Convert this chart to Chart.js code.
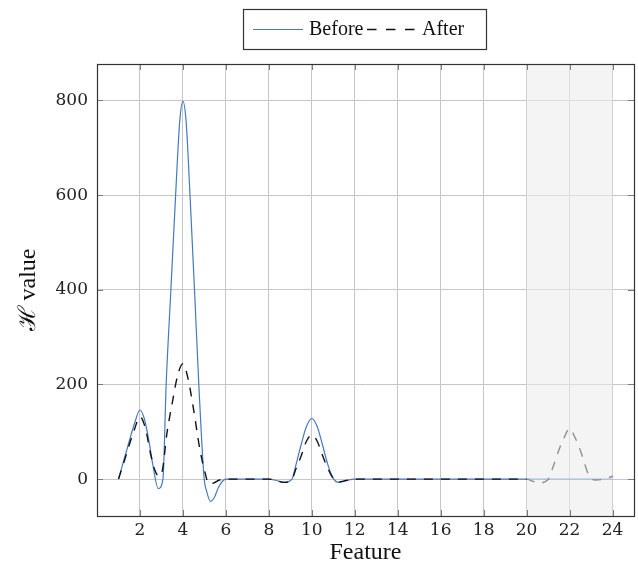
<!DOCTYPE html>
<html>
<head>
<meta charset="utf-8">
<script src="https://cdn.jsdelivr.net/npm/chart.js@4.4.1/dist/chart.umd.min.js"></script>
<style>
  html, body { margin: 0; padding: 0; background: #fff; }
  #wrap { width: 638px; height: 571px; }
</style>
</head>
<body>
<div id="wrap"><canvas id="myChart" width="638" height="571"></canvas></div>
<script>
// H value per feature, sampled along each curve
const beforeX = [1, 1.25, 1.5, 1.75, 2, 2.2, 2.4, 2.6, 2.85, 3.07, 3.22, 3.44, 3.66, 3.85, 4, 4.15, 4.33, 4.54, 4.74, 4.99, 5.1, 5.28, 5.45, 5.65, 5.85, 6,
                 7, 8, 8.35, 8.7, 9.08, 9.25, 9.5, 9.75, 10, 10.25, 10.5, 10.75, 11.02, 11.26, 11.6, 12,
                 14, 16, 18, 20, 22, 24];
const beforeY = [0, 40, 80, 118, 146, 128, 85, 30, -20, 0, 200, 400, 600, 755, 798, 755, 600, 400, 200, 0, -25, -47, -40, -18, -4, 0,
                 0, 0, -3, -7, 0, 28, 72, 111, 128, 111, 72, 30, 0, -7, -3, 0,
                 0, 0, 0, 0, 0, 0];

const afterX = [1, 1.25, 1.5, 1.75, 2, 2.25, 2.5, 2.7, 2.88, 3.05, 3.25, 3.5, 3.75, 4, 4.25, 4.5, 4.8, 5.04, 5.2, 5.45, 5.7, 6,
                7, 8, 8.35, 8.7, 9.08, 9.25, 9.5, 9.75, 10, 10.25, 10.5, 10.75, 11.02, 11.26, 11.6, 12,
                14, 16, 18, 20, 20.3, 20.6, 21, 21.25, 21.5, 21.75, 22, 22.25, 22.5, 22.9, 23.2, 23.6, 24];
const afterY = [0, 35, 72, 106, 132, 108, 52, 18, 6, 20, 95, 160, 218, 244, 210, 146, 60, 12, -10, -8, -2, 0,
                0, 0, -3, -7, 0, 20, 48, 80, 93, 80, 50, 22, 0, -6, -3, 0,
                0, 0, 0, 0, -5, -8, -1, 28, 61, 88, 107, 88, 61, 8, -2, 0, 6];

const xTicks = [2, 4, 6, 8, 10, 12, 14, 16, 18, 20, 22, 24];
const yTicks = [0, 200, 400, 600, 800];
const shadedRange = [20, 24];

const serif = "'Liberation Serif', 'DejaVu Serif', serif";
const tickFont = "'DejaVu Serif', serif";

const toPoints = (xs, ys) => xs.map((x, i) => ({ x: x, y: ys[i] }));

// grey band, inner tick marks, full frame and the boxed legend
const framePlugin = {
    id: 'frame',
    afterDatasetsDraw(chart) {
        const { ctx, chartArea: a, scales: { x, y } } = chart;
        ctx.save();
        const x0 = x.getPixelForValue(shadedRange[0]);
        const x1 = x.getPixelForValue(shadedRange[1]);
        ctx.fillStyle = 'rgba(236, 236, 236, 0.58)';
        ctx.fillRect(x0, a.top, x1 - x0, a.bottom - a.top);

        ctx.strokeStyle = '#7a7a7a';
        ctx.lineWidth = 1;
        ctx.beginPath();
        xTicks.forEach(v => {
            const px = Math.round(x.getPixelForValue(v)) + 0.5;
            ctx.moveTo(px, a.bottom); ctx.lineTo(px, a.bottom - 6);
            ctx.moveTo(px, a.top); ctx.lineTo(px, a.top + 6);
        });
        yTicks.forEach(v => {
            const py = Math.round(y.getPixelForValue(v)) + 0.5;
            ctx.moveTo(a.left, py); ctx.lineTo(a.left + 6, py);
            ctx.moveTo(a.right, py); ctx.lineTo(a.right - 6, py);
        });
        ctx.stroke();

        ctx.strokeStyle = '#333';
        ctx.lineWidth = 1.2;
        ctx.strokeRect(Math.round(a.left) + 0.5, Math.round(a.top) + 0.5,
                       Math.round(a.right - a.left), Math.round(a.bottom - a.top));
        ctx.restore();
    },
    afterDraw(chart) {
        const ctx = chart.ctx;
        const ds = chart.data.datasets;
        ctx.save();
        ctx.strokeStyle = '#333';
        ctx.lineWidth = 1.2;
        ctx.strokeRect(243.5, 9.5, 243, 40);

        ctx.lineWidth = ds[0].borderWidth;
        ctx.strokeStyle = ds[0].borderColor;
        ctx.beginPath(); ctx.moveTo(253, 29.5); ctx.lineTo(303, 29.5); ctx.stroke();

        ctx.lineWidth = ds[1].borderWidth;
        ctx.strokeStyle = ds[1].borderColor;
        ctx.setLineDash([9.5, 9.5]);
        ctx.beginPath(); ctx.moveTo(367, 29.5); ctx.lineTo(416, 29.5); ctx.stroke();
        ctx.setLineDash([]);

        ctx.fillStyle = '#111';
        ctx.font = '20px ' + serif;
        ctx.textBaseline = 'middle';
        ctx.fillText(ds[0].label, 309, 30);
        ctx.fillText(ds[1].label, 422, 30);
        ctx.restore();
    }
};

const config = {
    type: 'line',
    data: {
        datasets: [{
            label: 'Before',
            data: toPoints(beforeX, beforeY),
            borderColor: '#4579c3',
            borderWidth: 1.2,
            pointRadius: 0,
            cubicInterpolationMode: 'monotone',
            order: 2
        }, {
            label: 'After',
            data: toPoints(afterX, afterY),
            borderColor: '#111',
            borderWidth: 1.4,
            borderDash: [9, 8],
            pointRadius: 0,
            cubicInterpolationMode: 'monotone',
            order: 1
        }]
    },
    options: {
        responsive: false,
        animation: false,
        layout: { padding: { top: 64, right: 4, left: 0, bottom: 0 } },
        plugins: {
            legend: { display: false },
            tooltip: { enabled: false }
        },
        scales: {
            x: {
                type: 'linear',
                min: 0,
                max: 25,
                afterBuildTicks: s => { s.ticks = xTicks.map(v => ({ value: v })); },
                afterFit: s => { s.height = 55; },
                grid: { color: '#c6c6c6', lineWidth: 1, drawTicks: false },
                border: { display: false },
                ticks: { padding: 4, color: '#222', font: { family: tickFont, size: 17 } },
                title: {
                    display: true,
                    text: 'Feature',
                    color: '#111',
                    padding: { top: 0, bottom: 4 },
                    font: { family: serif, size: 24 }
                }
            },
            y: {
                min: -78,
                max: 877,
                afterBuildTicks: s => { s.ticks = yTicks.map(v => ({ value: v })); },
                afterFit: s => { s.width = 97; },
                grid: { color: '#c6c6c6', lineWidth: 1, drawTicks: false },
                border: { display: false },
                ticks: { padding: 9, color: '#222', font: { family: tickFont, size: 17 } },
                title: {
                    display: true,
                    text: 'ℋ value',
                    color: '#111',
                    padding: { top: 14, bottom: 0 },
                    font: { family: serif, size: 24 }
                }
            }
        }
    },
    plugins: [framePlugin]
};

const myChart = new Chart(document.getElementById('myChart'), config);
</script>
</body>
</html>
